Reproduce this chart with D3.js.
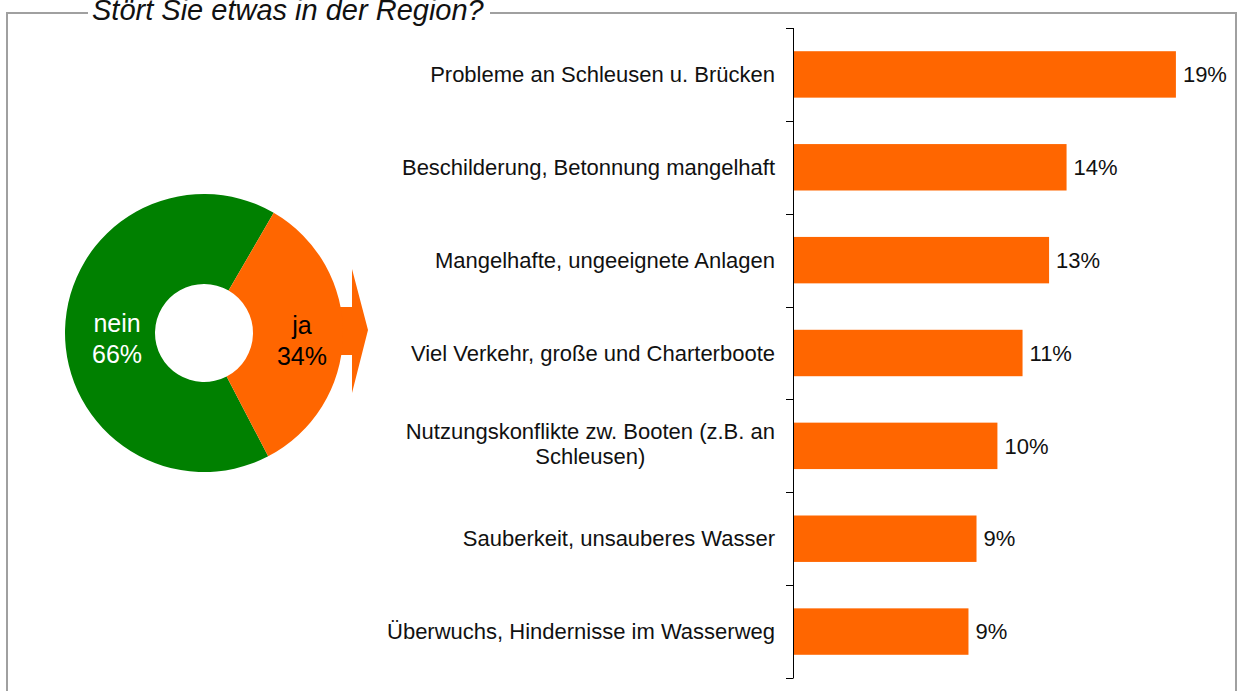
<!DOCTYPE html>
<html lang="de">
<head>
<meta charset="UTF-8">
<title>Stört Sie etwas in der Region?</title>
<script src="https://cdn.jsdelivr.net/npm/d3@7"></script>
<style>
  body { margin: 0; background: #fff; }
  svg { display: block; font-family: "Liberation Sans", Arial, sans-serif; }
</style>
</head>
<body>
<svg id="chart" width="1239" height="691"></svg>
<script>
// donut data
const pieLabels = ["nein", "ja"];
const pieValues = [66, 34];
const pieColors = ["#008000", "#ff6600"];

// bar data (share of answers)
const categories = [
  "Probleme an Schleusen u. Brücken",
  "Beschilderung, Betonnung mangelhaft",
  "Mangelhafte, ungeeignete Anlagen",
  "Viel Verkehr, große und Charterboote",
  "Nutzungskonflikte zw. Booten (z.B. an|Schleusen)",
  "Sauberkeit, unsauberes Wasser",
  "Überwuchs, Hindernisse im Wasserweg"
];
const values = [19.05, 13.61, 12.74, 11.42, 10.17, 9.13, 8.73];
const valueLabels = ["19%", "14%", "13%", "11%", "10%", "9%", "9%"];

const svg = d3.select("#chart");

// frame with title
const frame = svg.append("g")
  .attr("fill", "none")
  .attr("stroke", "#a0a0a0")
  .attr("stroke-width", 2);
frame.append("path").attr("d", "M7,700V13H88");
frame.append("path").attr("d", "M490,13H1236V700");

svg.append("text")
  .attr("x", 92)
  .attr("y", 20)
  .attr("font-size", 29)
  .attr("font-style", "italic")
  .attr("fill", "#111")
  .text("Stört Sie etwas in der Region?");

// donut
const cx = 204, cy = 333, rOuter = 139, rInner = 49;
const donut = svg.append("g").attr("transform", `translate(${cx},${cy})`);

const start = 152.5 * Math.PI / 180;
const pie = d3.pie().sort(null).startAngle(start).endAngle(start + 2 * Math.PI);
const arc = d3.arc().innerRadius(rInner).outerRadius(rOuter);
const arcs = pie(pieValues);

// arrow pointing from the "ja" slice to the bars
const arrow = d3.path();
arrow.moveTo(rOuter - 10, -26);
arrow.lineTo(148, -26);
arrow.lineTo(148, -64);
arrow.lineTo(164, -3);
arrow.lineTo(148, 60);
arrow.lineTo(148, 22);
arrow.lineTo(rOuter - 10, 22);
arrow.closePath();
donut.append("path").attr("d", arrow.toString()).attr("fill", pieColors[1]);

donut.selectAll(".slice")
  .data(arcs)
  .join("path")
  .attr("class", "slice")
  .attr("d", arc)
  .attr("fill", (d, i) => pieColors[i]);

// label radius differs a little per slice, as in the original
const labelR = [87, 98];
donut.selectAll(".plabel")
  .data(arcs)
  .join("text")
  .attr("class", "plabel")
  .attr("text-anchor", "middle")
  .attr("font-size", 25)
  .attr("fill", (d, i) => i === 0 ? "#fff" : "#000")
  .attr("transform", (d, i) => {
    const [x, y] = d3.arc().innerRadius(labelR[i]).outerRadius(labelR[i]).centroid(d);
    return `translate(${x},0)`;
  })
  .each(function (d, i) {
    const t = d3.select(this);
    t.append("tspan").attr("x", 0).attr("y", i === 0 ? -1 : 1).text(pieLabels[i]);
    t.append("tspan").attr("x", 0).attr("y", i === 0 ? 30 : 32).text(pieValues[i] + "%");
  });

// bars
const x0 = 793;
const x = d3.scaleLinear().domain([0, 20]).range([x0, x0 + 402]);
const y = d3.scaleBand().domain(categories).range([28, 678])
  .paddingInner(0.5).paddingOuter(0.25);

svg.append("g")
  .selectAll("rect")
  .data(values)
  .join("rect")
  .attr("x", x(0))
  .attr("y", (d, i) => y(categories[i]))
  .attr("width", d => x(d) - x(0))
  .attr("height", y.bandwidth())
  .attr("fill", "#ff6600");

svg.append("g")
  .selectAll("text")
  .data(values)
  .join("text")
  .attr("x", d => x(d) + 7)
  .attr("y", (d, i) => y(categories[i]) + y.bandwidth() / 2)
  .attr("dy", "0.35em")
  .attr("font-size", 22)
  .attr("fill", "#111")
  .text((d, i) => valueLabels[i]);

// axis: ticks between categories
const step = y.step();
const tickPos = d3.range(categories.length + 1).map(i => 28 + i * step);
const axis = svg.append("g").attr("stroke", "#000").attr("stroke-width", 1);
axis.append("line")
  .attr("x1", x0 + 0.5).attr("x2", x0 + 0.5)
  .attr("y1", tickPos[0]).attr("y2", tickPos[tickPos.length - 1]);
axis.selectAll(".tick")
  .data(tickPos)
  .join("line")
  .attr("class", "tick")
  .attr("x1", x0 - 7).attr("x2", x0 + 0.5)
  .attr("y1", d => Math.round(d) + 0.5).attr("y2", d => Math.round(d) + 0.5);

// category labels
svg.append("g")
  .selectAll("text")
  .data(categories)
  .join("text")
  .attr("font-size", 22)
  .attr("fill", "#111")
  .each(function (c) {
    const lines = c.split("|");
    const t = d3.select(this);
    const mid = y(c) + y.bandwidth() / 2;
    if (lines.length === 1) {
      t.attr("text-anchor", "end").attr("x", 775).attr("y", mid).attr("dy", "0.35em").text(c);
    } else {
      t.attr("text-anchor", "middle");
      lines.forEach((l, k) => {
        t.append("tspan")
          .attr("y", mid + (k - (lines.length - 1) / 2) * 25)
          .attr("dy", "0.25em")
          .text(l);
      });
      // centre the block so its widest line ends at x=775
      const w = d3.max(t.selectAll("tspan").nodes(), n => n.getComputedTextLength());
      t.selectAll("tspan").attr("x", 775 - w / 2);
    }
  });
</script>
</body>
</html>
